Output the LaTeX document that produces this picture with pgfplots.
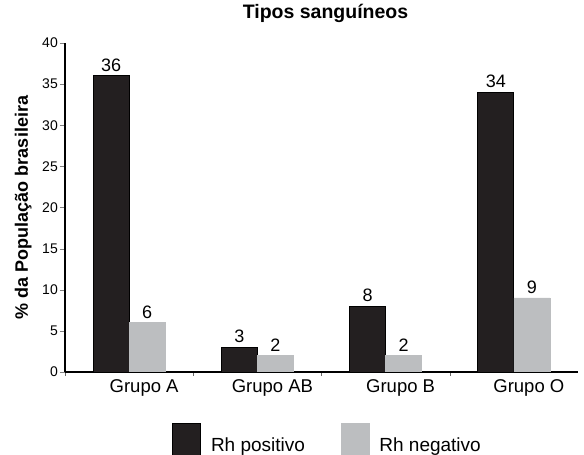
\documentclass[border=0pt]{standalone}
\usepackage{fontspec}
\setmainfont{Liberation Sans}
\usepackage{pgfplots}
\pgfplotsset{compat=1.18}
\definecolor{barpos}{HTML}{231F20}
\definecolor{barneg}{HTML}{BCBEC0}
\begin{document}
\begin{tikzpicture}
\path[use as bounding box] (-65pt,-83pt) rectangle (519pt,372pt);
\begin{axis}[
    width=513pt, height=329pt, scale only axis,
    /pgf/number format/assume math mode=true,
    xmin=-0.5, xmax=3.5, ymin=0, ymax=40,
    axis x line*=bottom, axis y line*=left,
    axis line style={line width=1.8pt, -},
    ybar=0pt, bar width=36pt,
    ytick={0,5,...,40},
    tick align=outside,
    major tick length=5pt,
    minor tick length=4pt,
    yticklabel style={font=\fontsize{14}{16}\selectfont, inner sep=2pt},
    xtick={0,1,2,3},
    xticklabels={Grupo A, Grupo AB, Grupo B, Grupo O},
    major x tick style={draw=none},
    minor xtick={-0.5,0.5,1.5,2.5},
    minor x tick style={black!60, thin},
    xticklabel style={font=\fontsize{18.5}{20}\selectfont, xshift=15pt, yshift=1pt},
    title={\bfseries Tipos sanguíneos},
    title style={font=\fontsize{19.5}{21}\selectfont, at={(0.5,1)}, anchor=south, yshift=11pt, xshift=4pt},
    ylabel={\bfseries \% da População brasileira},
    ylabel style={font=\fontsize{18}{20}\selectfont, at={(-0.058,0.5)}},
    nodes near coords,
    nodes near coords style={font=\fontsize{18}{20}\selectfont, black, inner sep=4pt},
    legend columns=2,
    legend style={at={(axis description cs:0.2086,-0.155)}, anchor=north west,
        draw=none, font=\fontsize{19}{21}\selectfont, inner sep=0pt,
        /tikz/column 2/.style={column sep=34pt},
        /tikz/every odd column/.append style={column sep=8pt}},
    legend image code/.code={\draw[#1] (0pt,-10pt) rectangle (28pt,22pt);},
]
\addplot[fill=barpos, draw=black, line width=0.8pt] coordinates {(0,36) (1,3) (2,8) (3,34)};
\addplot[fill=barneg, draw=barneg] coordinates {(0,6) (1,2) (2,2) (3,9)};
\legend{Rh positivo, Rh negativo}
\end{axis}
\end{tikzpicture}
\end{document}
